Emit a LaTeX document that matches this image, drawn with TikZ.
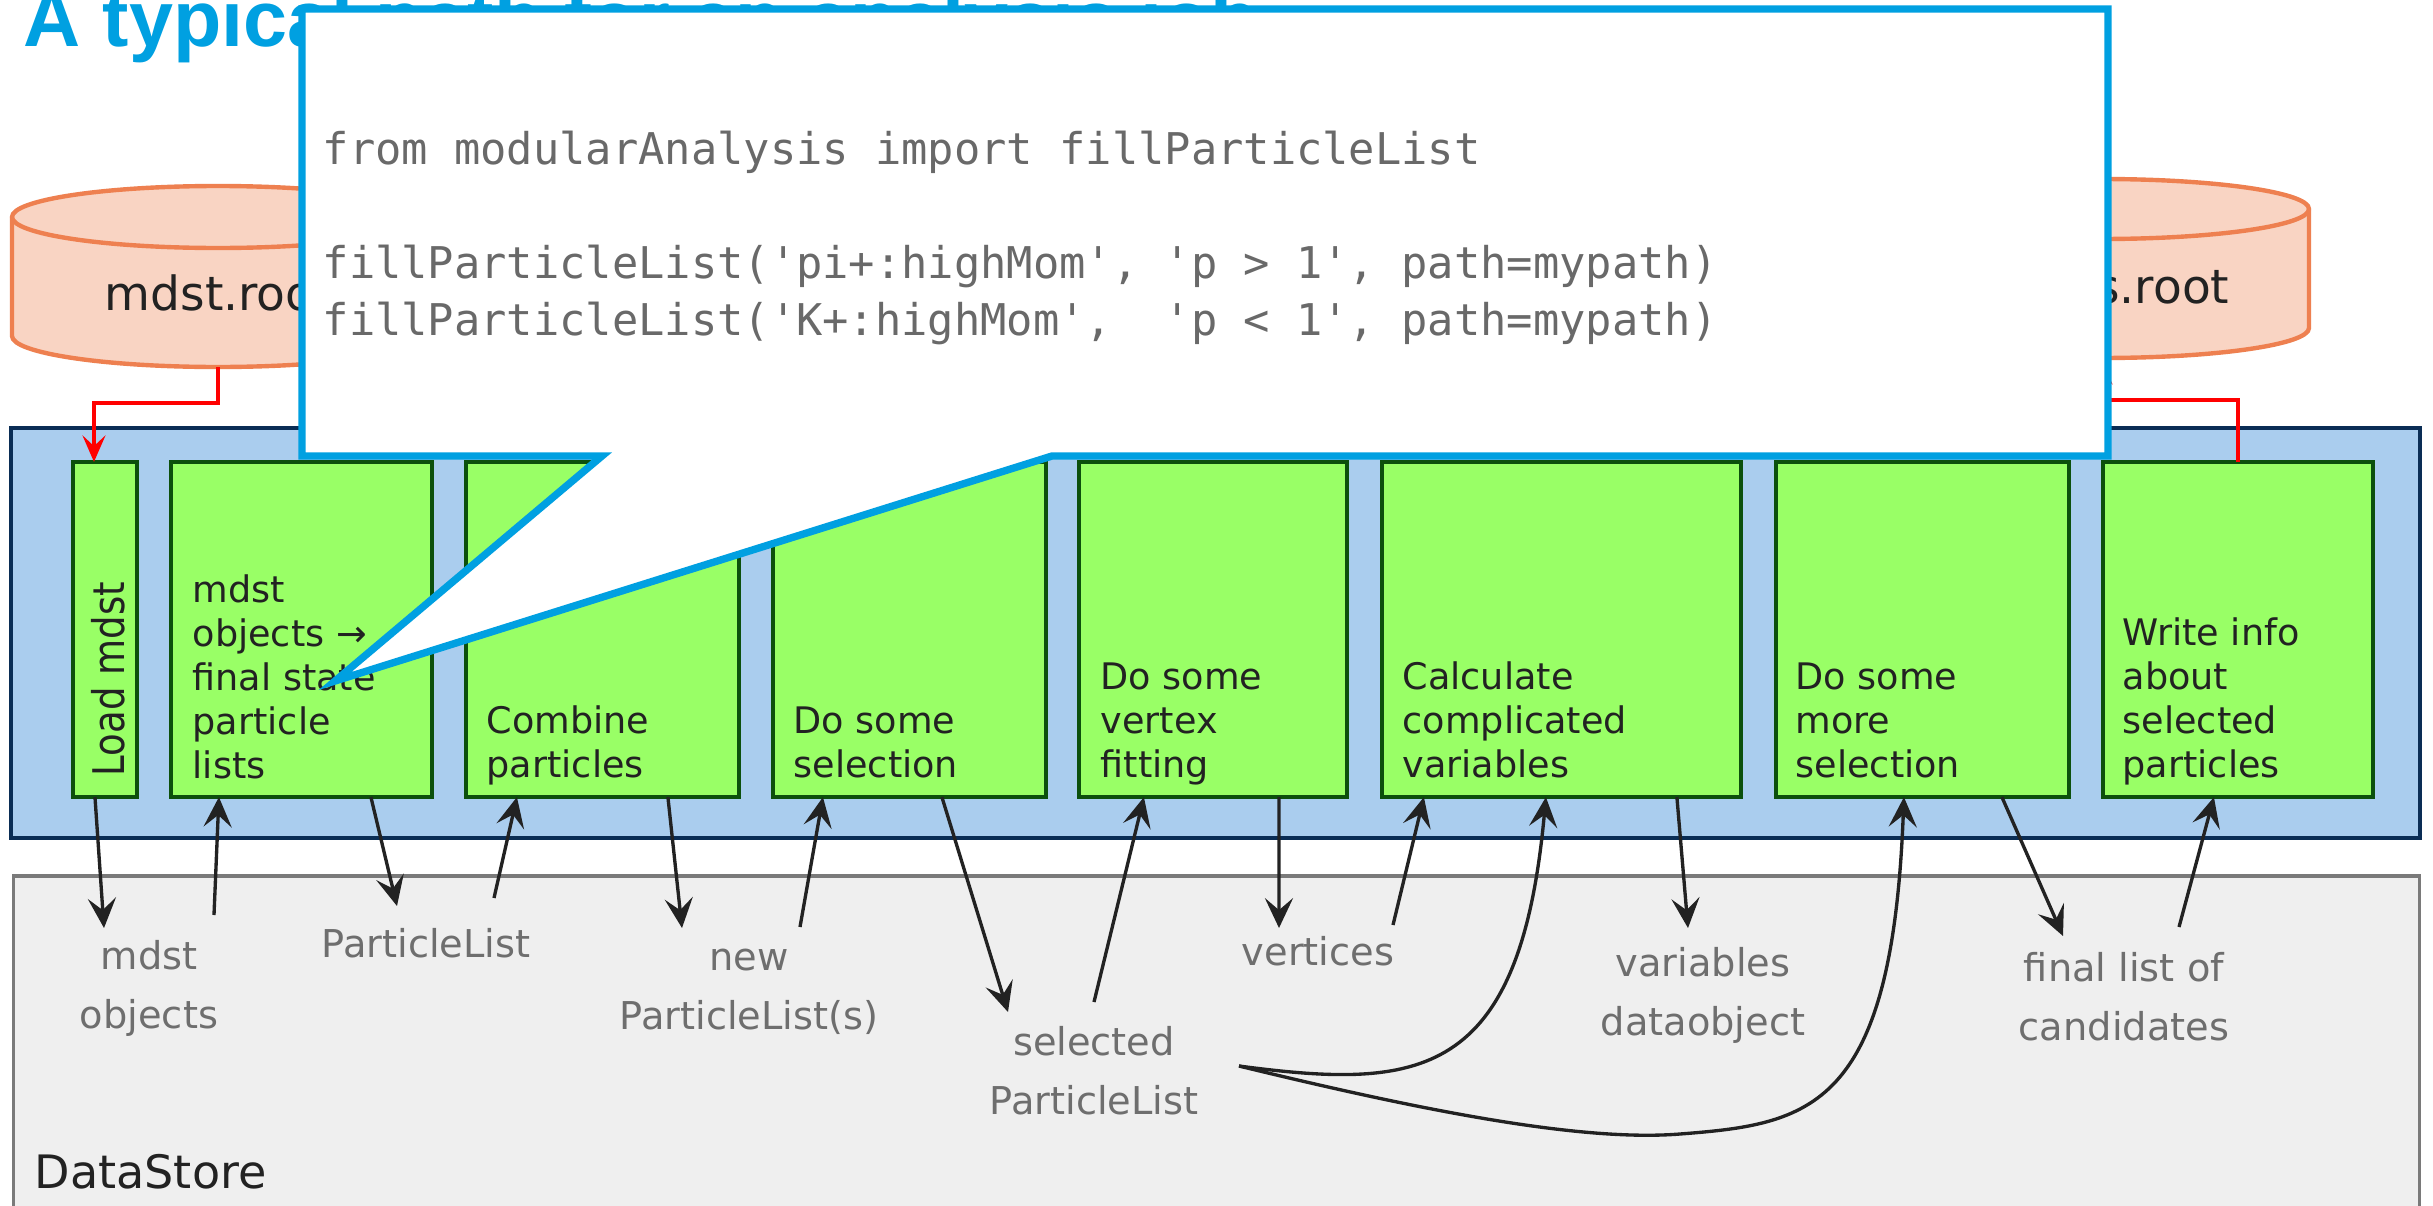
\documentclass[tikz,border=0pt]{standalone}
\usepackage{fontspec}
\setmainfont{DejaVu Sans}
\setmonofont{DejaVu Sans Mono}
\newfontfamily\titlefont{Liberation Sans}
\newfontfamily\boxfont{DejaVu Sans}
\newfontfamily\rotfont{DejaVu Sans}[FakeStretch=0.85]
\usetikzlibrary{arrows.meta,calc}

\definecolor{tblue}{RGB}{0,160,225}
\definecolor{gfill}{RGB}{153,255,102}
\definecolor{gdraw}{RGB}{12,80,12}
\definecolor{pfill}{RGB}{170,205,238}
\definecolor{pdraw}{RGB}{10,45,85}
\definecolor{dsfill}{RGB}{239,239,239}
\definecolor{dsdraw}{RGB}{122,122,122}
\definecolor{cfill}{RGB}{249,212,195}
\definecolor{cdraw}{RGB}{238,128,80}
\definecolor{lgray}{RGB}{110,110,110}
\definecolor{codegray}{RGB}{105,105,105}
\definecolor{ink}{RGB}{34,34,34}

\begin{document}
\begin{tikzpicture}[x=0.01cm,y=-0.01cm,
  stepbox/.style={draw=gdraw, fill=gfill, line width=1.05pt, inner sep=0pt, outer sep=0pt, minimum height=3.35cm},
  boxtext/.style={font={\boxfont\fontsize{10.4pt}{12.5pt}\selectfont}, text=ink, align=left, inner sep=0pt, anchor=base west},
  lbl/.style={font={\fontsize{10.9pt}{16.5pt}\selectfont}, text=lgray, align=center, inner sep=0pt, anchor=base},
  flow/.style={draw=ink, line width=0.95pt, -{Stealth[length=8.5pt,width=8pt,inset=3.4pt]}},
  redflow/.style={draw=red, line width=1.35pt, -{Stealth[length=7.5pt,width=6.5pt,inset=3pt]}},
  cyl/.style={draw=cdraw, fill=cfill, line width=1.25pt},
  cyltext/.style={font={\fontsize{13.4pt}{16pt}\selectfont}, text=ink, inner sep=0pt},
]
\path[use as bounding box] (0,0) rectangle (2433,1206);
\clip (0,0) rectangle (2433,1206);
\fill[white] (0,0) rectangle (2433,1206);

% title
\node[anchor=base west, inner sep=0pt, text=tblue, font={\titlefont\bfseries\fontsize{22.5pt}{27pt}\selectfont}] (title) at (23,46) {A typical path for an analysis job};

% cylinders
\path[cyl] (12,217) -- (12,336) arc[start angle=180, end angle=0, x radius=206, y radius=31] -- (424,217) arc[start angle=0, end angle=-180, x radius=206, y radius=31] -- cycle;
\draw[cyl, fill=none] (12,217) arc[start angle=180, end angle=0, x radius=206, y radius=31];
\node[cyltext, anchor=base west] (mdstroot) at (104,310) {mdst.root};
\coordinate (mdstbot) at (218,367);

\path[cyl] (1893,209) -- (1893,328) arc[start angle=180, end angle=0, x radius=208, y radius=30] -- (2309,209) arc[start angle=0, end angle=-180, x radius=208, y radius=30] -- cycle;
\draw[cyl, fill=none] (1893,209) arc[start angle=180, end angle=0, x radius=208, y radius=30];
\node[cyltext, anchor=base east] (outroot) at (2230,303) {s.root};
\coordinate (ntbot) at (2101,358);

% panels
\node[draw=pdraw, fill=pfill, line width=1.05pt, minimum width=24.07cm, minimum height=4.10cm, inner sep=0pt, outer sep=0pt] (proc) at (1215.5,633) {};
\node[draw=dsdraw, fill=dsfill, line width=1pt, minimum width=24.05cm, minimum height=3.40cm, inner sep=0pt, outer sep=0pt] (ds) at (1216.5,1046) {};
\node[anchor=base west, inner sep=0pt, text=ink, font={\fontsize{13.1pt}{16pt}\selectfont}] (dslabel) at (34,1188) {DataStore};

% module boxes
\node[stepbox, minimum width=0.64cm] (b1) at (105,629.5) {};
\node[stepbox, minimum width=2.61cm] (b2) at (301.5,629.5) {};
\node[stepbox, minimum width=2.73cm] (b3) at (602.5,629.5) {};
\node[stepbox, minimum width=2.73cm] (b4) at (909.5,629.5) {};
\node[stepbox, minimum width=2.68cm] (b5) at (1213,629.5) {};
\node[stepbox, minimum width=3.59cm] (b6) at (1561.5,629.5) {};
\node[stepbox, minimum width=2.93cm] (b7) at (1922.5,629.5) {};
\node[stepbox, minimum width=2.70cm] (b8) at (2238,629.5) {};

\node[rotate=90, inner sep=0pt, text=ink, font={\rotfont\fontsize{12.4pt}{14pt}\selectfont}] (t1) at (108,679) {Load mdst};
\node[boxtext] (t2) at (192,778) {mdst\\objects →\\final state\\particle\\lists};
\node[boxtext] (t3) at (486,777) {Combine\\particles};
\node[boxtext] (t4) at (793,777) {Do some\\selection};
\node[boxtext] (t5) at (1100,777) {Do some\\vertex\\fitting};
\node[boxtext] (t6) at (1402,777) {Calculate\\complicated\\variables};
\node[boxtext] (t7) at (1795,777) {Do some\\more\\selection};
\node[boxtext] (t8) at (2122,777) {Write info\\about\\selected\\particles};

% datastore labels (anchored at the last line's baseline)
\node[lbl] (l1) at (149,1028) {mdst\\objects};
\node[lbl] (l2) at (426,957) {ParticleList};
\node[lbl] (l3) at (749,1029) {new\\ParticleList(s)};
\node[lbl] (l4) at (1094,1114) {selected\\ParticleList};
\node[lbl] (l5) at (1318,965) {vertices};
\node[lbl] (l6) at (1703,1035) {variables\\dataobject};
\node[lbl] (l7) at (2124,1040) {final list of\\candidates};

% free ends
\coordinate (e1) at (104,928);
\coordinate (s1) at (214,915);
\coordinate (e2) at (397,906);
\coordinate (s2) at (494,898);
\coordinate (e3) at (682,928);
\coordinate (s3) at (800,927);
\coordinate (e4) at (1008,1012);
\coordinate (s4) at (1094,1002);
\coordinate (e5) at (1279,928);
\coordinate (s5) at (1393,925);
\coordinate (sel) at (1239,1066);
\coordinate (e6) at (1688,928);
\coordinate (e7) at (2063,936);
\coordinate (s8) at (2179,927);

% data flow arrows
\draw[flow] ($(b1.south west)+(22,0)$) -- (e1);
\draw[flow] (s1) -- ($(b2.south west)+(48,0)$);
\draw[flow] ($(b2.south west)+(200,0)$) -- (e2);
\draw[flow] (s2) -- ($(b3.south west)+(51,0)$);
\draw[flow] ($(b3.south west)+(202,0)$) -- (e3);
\draw[flow] (s3) -- ($(b4.south west)+(50,0)$);
\draw[flow] ($(b4.south west)+(169,0)$) -- (e4);
\draw[flow] (s4) -- ($(b5.south west)+(65,0)$);
\draw[flow] ($(b5.south west)+(200,0)$) -- (e5);
\draw[flow] (s5) -- ($(b6.south west)+(42,0)$);
\draw[flow] (sel) .. controls (1420,1090) and (1520,1080) .. ($(b6.south west)+(164,0)$);
\draw[flow] ($(b6.south west)+(295,0)$) -- (e6);
\draw[flow] (sel) .. controls (1420,1110) and (1580,1142) .. (1680,1134) .. controls (1810,1124) and (1892,1110) .. ($(b7.south west)+(128,0)$);
\draw[flow] ($(b7.south west)+(226,0)$) -- (e7);
\draw[flow] (s8) -- ($(b8.south west)+(111,0)$);

% red file arrows
\draw[redflow] (mdstbot) -- ++(0,36) -| ($(b1.north west)+(21,0)$);
\draw[redflow] (b8.north) -- ++(0,-62) -| (ntbot);

% callout
\draw[draw=tblue, fill=white, line width=2.1pt] (302,9) -- (2108,9) -- (2108,456) -- (1052,456) -- (335,681) -- (602,456) -- (302,456) -- cycle;
\node[anchor=base west, inner sep=0pt, align=left, text=codegray, font={\ttfamily\fontsize{12.43pt}{16.2pt}\selectfont}] (code) at (322,335) {from modularAnalysis import fillParticleList\\[16.2pt]fillParticleList('pi+:highMom', 'p > 1', path=mypath)\\fillParticleList('K+:highMom',\ \ 'p < 1', path=mypath)};
\end{tikzpicture}
\end{document}
